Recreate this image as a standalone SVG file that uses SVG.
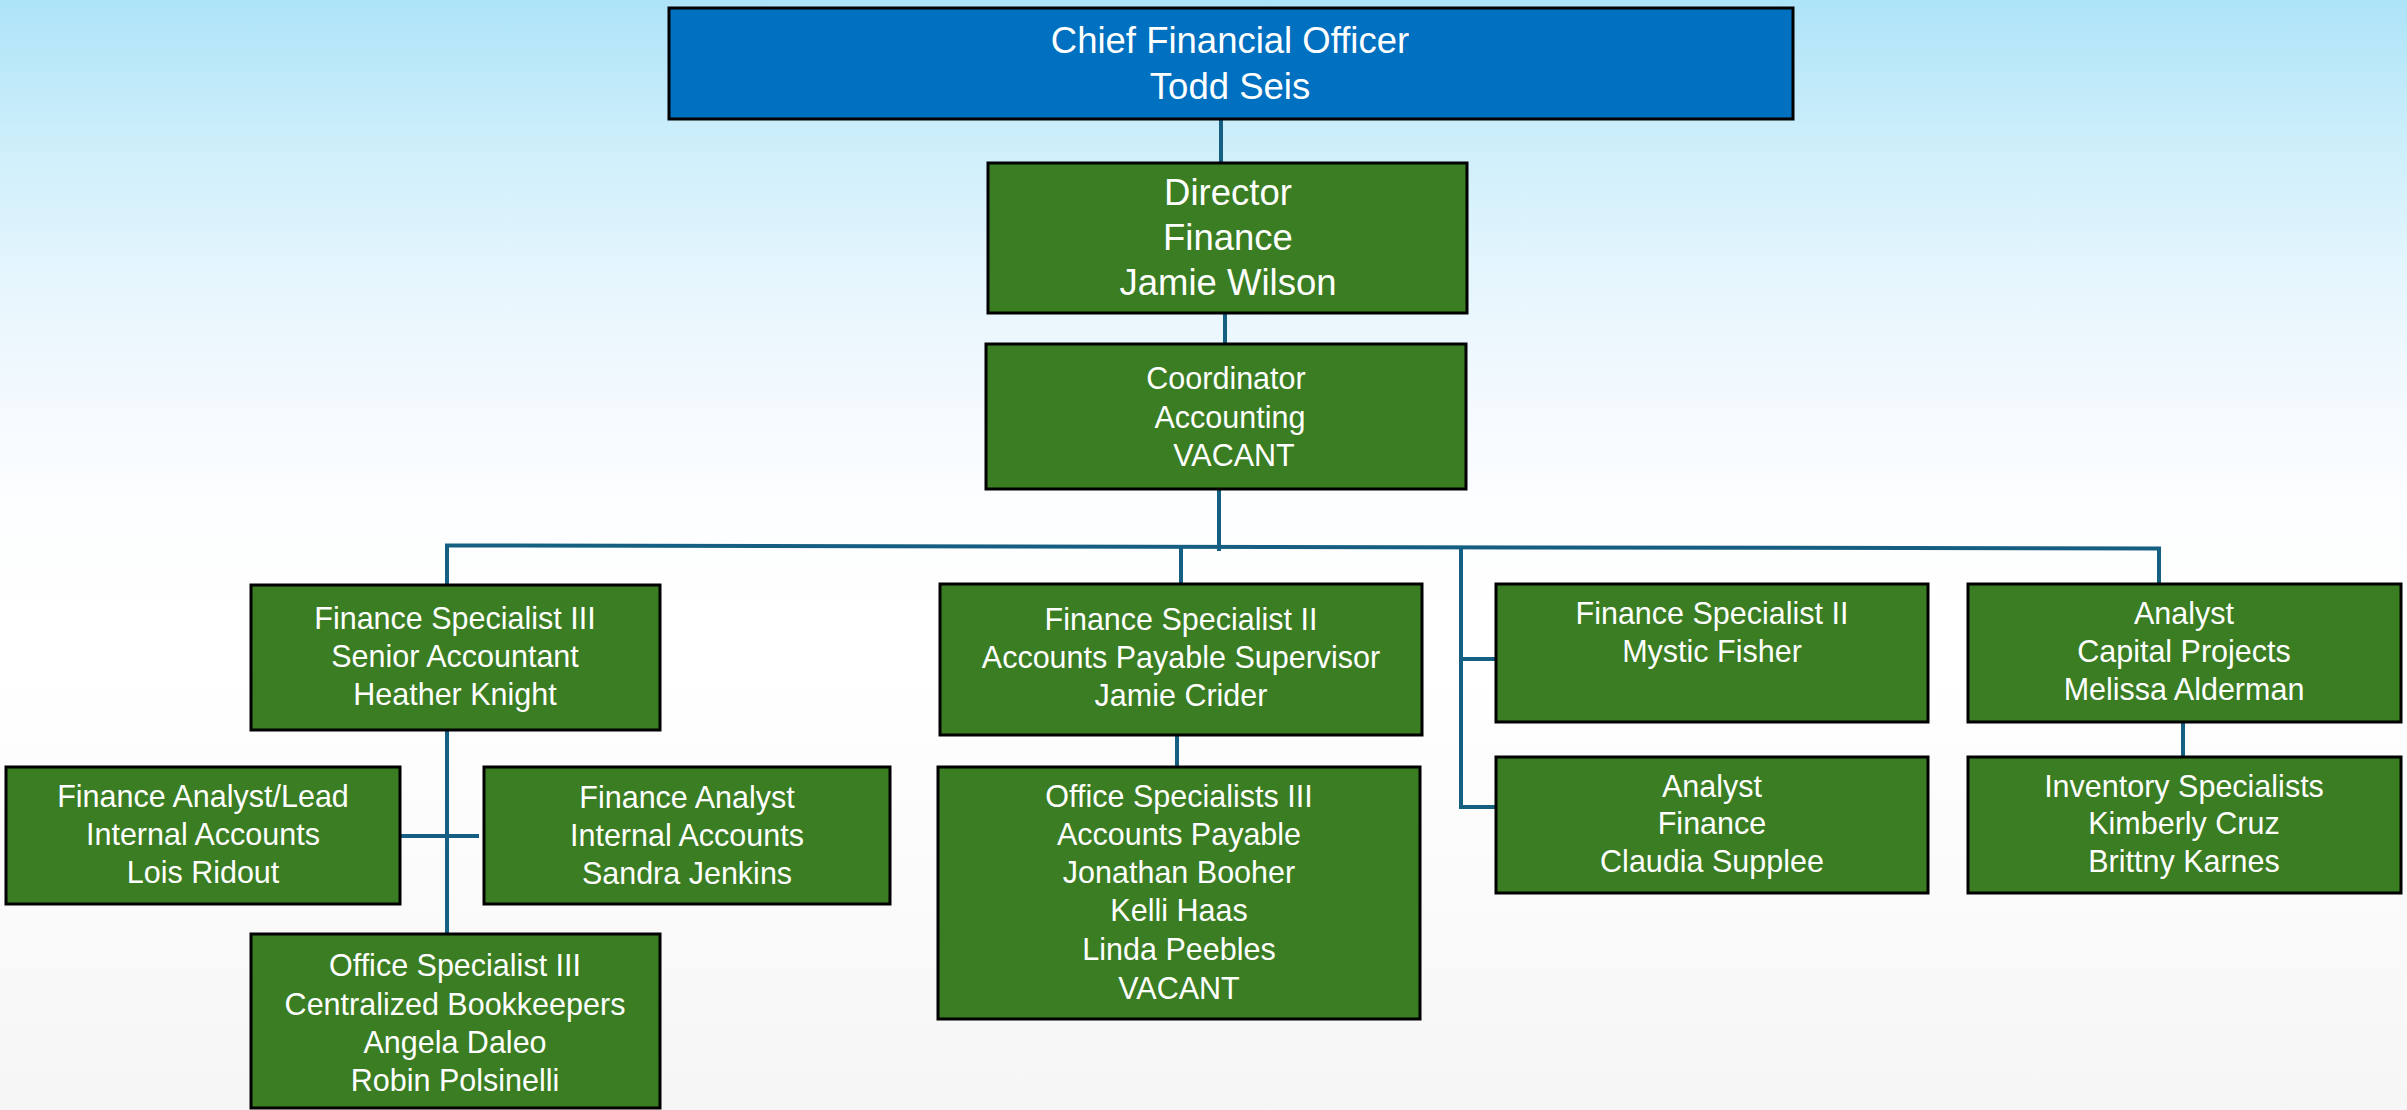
<svg xmlns="http://www.w3.org/2000/svg" width="2407" height="1110" viewBox="0 0 2407 1110">
<defs>
<linearGradient id="bg" x1="0" y1="0" x2="0" y2="1">
<stop offset="0" stop-color="#ADE3F8"/>
<stop offset="0.12" stop-color="#CBEEFA"/>
<stop offset="0.24" stop-color="#E4F5FD"/>
<stop offset="0.365" stop-color="#F4FAFE"/>
<stop offset="0.46" stop-color="#FDFEFF"/>
<stop offset="0.6" stop-color="#FFFFFF"/>
<stop offset="1" stop-color="#F6F6F6"/>
</linearGradient>
<style>
.box{fill:#3A7D22;stroke:#000;stroke-width:3}
.cfo{fill:#0070C0;stroke:#000;stroke-width:3}
.t{font-family:"Liberation Sans",Arial,sans-serif;fill:#fff;text-anchor:middle;font-size:30.5px}
.big{font-size:36.5px}
.c{stroke:#156082;stroke-width:4;fill:none}
</style>
</defs>
<rect x="0" y="0" width="2407" height="1110" fill="url(#bg)"/>
<g id="connectors">
<line class="c" x1="1221" y1="110" x2="1221" y2="163"/>
<line class="c" x1="1225" y1="305" x2="1225" y2="344"/>
<line class="c" x1="1219" y1="489" x2="1219" y2="551"/>
<line class="c" x1="445" y1="545.5" x2="2161" y2="548.5"/>
<line class="c" x1="447" y1="545.5" x2="447" y2="585"/>
<line class="c" x1="1181" y1="546" x2="1181" y2="584"/>
<line class="c" x1="1461" y1="547" x2="1461" y2="809"/>
<line class="c" x1="1459" y1="659" x2="1497" y2="659"/>
<line class="c" x1="1459" y1="807" x2="1497" y2="807"/>
<line class="c" x1="2159" y1="548" x2="2159" y2="588"/>
<line class="c" x1="2183" y1="722" x2="2183" y2="757"/>
<line class="c" x1="1177" y1="735" x2="1177" y2="767"/>
<line class="c" x1="447" y1="730" x2="447" y2="942"/>
<line class="c" x1="397" y1="836" x2="479" y2="836"/>
</g>
<g id="cfo">
<rect class="cfo" x="669" y="8" width="1124" height="111"/>
<text class="t big" x="1230" y="53">Chief Financial Officer</text>
<text class="t big" x="1230" y="99">Todd Seis</text>
</g>
<g id="director">
<rect class="box" x="988" y="163" width="479" height="150"/>
<text class="t big" x="1228" y="205">Director</text>
<text class="t big" x="1228" y="250">Finance</text>
<text class="t big" x="1228" y="295">Jamie Wilson</text>
</g>
<g id="coordinator">
<rect class="box" x="986" y="344" width="480" height="145"/>
<text class="t" x="1226" y="389">Coordinator</text>
<text class="t" x="1230" y="428">Accounting</text>
<text class="t" x="1234" y="466">VACANT</text>
</g>
<g id="heather-knight">
<rect class="box" x="251" y="585" width="409" height="145"/>
<text class="t" x="455" y="629">Finance Specialist III</text>
<text class="t" x="455" y="667">Senior Accountant</text>
<text class="t" x="455" y="705">Heather Knight</text>
</g>
<g id="lois-ridout">
<rect class="box" x="6" y="767" width="394" height="137"/>
<text class="t" x="203" y="807">Finance Analyst/Lead</text>
<text class="t" x="203" y="845">Internal Accounts</text>
<text class="t" x="203" y="883">Lois Ridout</text>
</g>
<g id="sandra-jenkins">
<rect class="box" x="484" y="767" width="406" height="137"/>
<text class="t" x="687" y="808">Finance Analyst</text>
<text class="t" x="687" y="846">Internal Accounts</text>
<text class="t" x="687" y="884">Sandra Jenkins</text>
</g>
<g id="bookkeepers">
<rect class="box" x="251" y="934" width="409" height="174"/>
<text class="t" x="455" y="976">Office Specialist III</text>
<text class="t" x="455" y="1015">Centralized Bookkeepers</text>
<text class="t" x="455" y="1053">Angela Daleo</text>
<text class="t" x="455" y="1091">Robin Polsinelli</text>
</g>
<g id="jamie-crider">
<rect class="box" x="940" y="584" width="482" height="151"/>
<text class="t" x="1181" y="630">Finance Specialist II</text>
<text class="t" x="1181" y="668">Accounts Payable Supervisor</text>
<text class="t" x="1181" y="706">Jamie Crider</text>
</g>
<g id="accounts-payable">
<rect class="box" x="938" y="767" width="482" height="252"/>
<text class="t" x="1179" y="807">Office Specialists III</text>
<text class="t" x="1179" y="845">Accounts Payable</text>
<text class="t" x="1179" y="883">Jonathan Booher</text>
<text class="t" x="1179" y="921">Kelli Haas</text>
<text class="t" x="1179" y="960">Linda Peebles</text>
<text class="t" x="1179" y="999">VACANT</text>
</g>
<g id="mystic-fisher">
<rect class="box" x="1496" y="584" width="432" height="138"/>
<text class="t" x="1712" y="624">Finance Specialist II</text>
<text class="t" x="1712" y="662">Mystic Fisher</text>
</g>
<g id="claudia-supplee">
<rect class="box" x="1496" y="757" width="432" height="136"/>
<text class="t" x="1712" y="797">Analyst</text>
<text class="t" x="1712" y="834">Finance</text>
<text class="t" x="1712" y="872">Claudia Supplee</text>
</g>
<g id="melissa-alderman">
<rect class="box" x="1968" y="584" width="433" height="138"/>
<text class="t" x="2184" y="624">Analyst</text>
<text class="t" x="2184" y="662">Capital Projects</text>
<text class="t" x="2184" y="700">Melissa Alderman</text>
</g>
<g id="inventory">
<rect class="box" x="1968" y="757" width="433" height="136"/>
<text class="t" x="2184" y="797">Inventory Specialists</text>
<text class="t" x="2184" y="834">Kimberly Cruz</text>
<text class="t" x="2184" y="872">Brittny Karnes</text>
</g>
</svg>
